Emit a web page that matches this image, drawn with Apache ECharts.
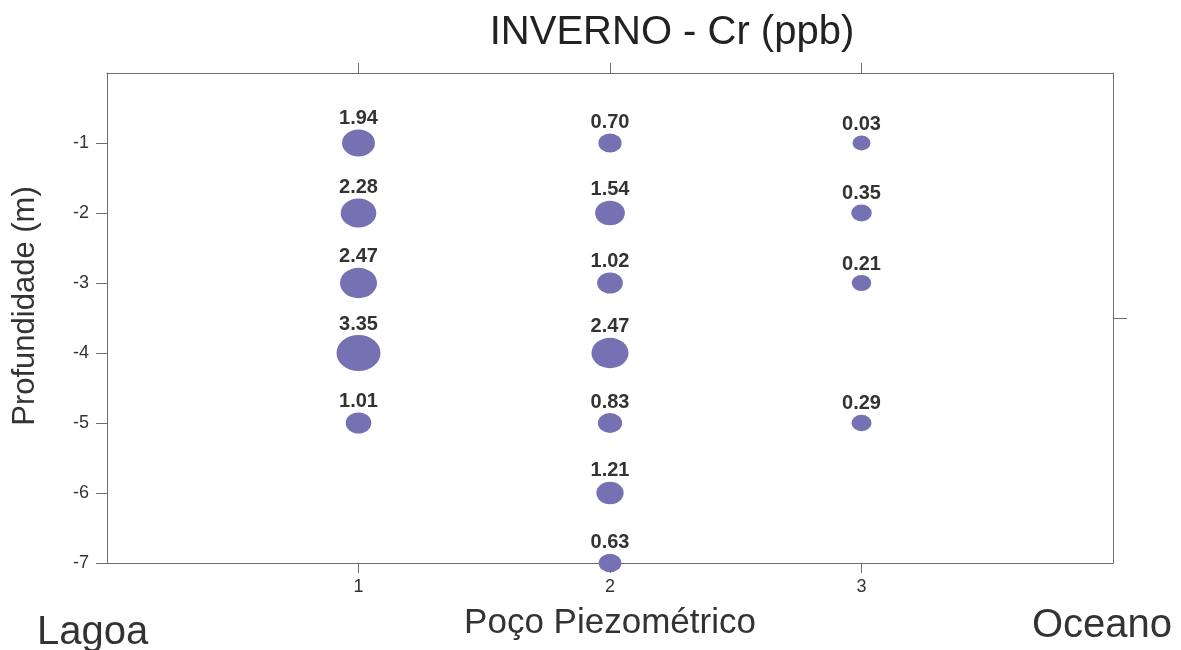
<!DOCTYPE html>
<html>
<head>
<meta charset="utf-8">
<script src="https://cdn.jsdelivr.net/npm/echarts@6/dist/echarts.min.js"></script>
<style>
html,body{margin:0;padding:0;background:#fff;}
#chart{width:1181px;height:650px;}
</style>
</head>
<body>
<div id="chart"></div>
<script>
// Data
const wellPositions = [1, 2, 3];
const depthsWell1 = [-1, -2, -3, -4, -5];
const valuesWell1 = [1.94, 2.28, 2.47, 3.35, 1.01];
const depthsWell2 = [-1, -2, -3, -4, -5, -6, -7];
const valuesWell2 = [0.70, 1.54, 1.02, 2.47, 0.83, 1.21, 0.63];
const depthsWell3 = [-1, -2, -3, -5];
const valuesWell3 = [0.03, 0.35, 0.21, 0.29];
const yTickValues = [-1, -2, -3, -4, -5, -6, -7];
const titleText = 'INVERNO - Cr (ppb)';
const xName = 'Poço Piezométrico';
const yName = 'Profundidade (m)';
const leftLabel = 'Lagoa';
const rightLabel = 'Oceano';

const allDepths = [depthsWell1, depthsWell2, depthsWell3];
const allValues = [valuesWell1, valuesWell2, valuesWell3];
const points = [];
wellPositions.forEach((w, i) => {
  allDepths[i].forEach((d, j) => points.push([w, d, allValues[i][j]]));
});

const FONT = '"Liberation Sans", Arial, Helvetica, sans-serif';
const axisColor = '#6e6e6e';

const chart = echarts.init(document.getElementById('chart'));
chart.setOption({
  animation: false,
  backgroundColor: '#fff',
  textStyle: { fontFamily: FONT },
  title: {
    text: titleText,
    left: 667, top: 8, textAlign: 'center',
    textStyle: { fontFamily: FONT, fontSize: 40, fontWeight: 'normal', color: '#222' }
  },
  grid: { left: 107, right: 68, top: 73, bottom: 87 },
  xAxis: [{
    type: 'value', position: 'bottom', min: 0, max: 4, interval: 1,
    splitLine: { show: false },
    axisLine: { show: true, onZero: false, lineStyle: { color: axisColor, width: 1 } },
    axisTick: { show: true, length: 10, customValues: wellPositions, lineStyle: { color: axisColor } },
    axisLabel: { customValues: wellPositions, fontSize: 18, color: '#333', margin: 15, fontFamily: FONT },
    name: xName, nameLocation: 'middle', nameGap: 43,
    nameTextStyle: { fontSize: 35, color: '#333', fontFamily: FONT }
  }, {
    type: 'value', position: 'top', min: 0, max: 4, interval: 1,
    splitLine: { show: false },
    axisLine: { show: true, onZero: false, lineStyle: { color: axisColor, width: 1 } },
    axisTick: { show: true, length: 10, customValues: wellPositions, lineStyle: { color: axisColor } },
    axisLabel: { show: false }
  }],
  yAxis: [{
    type: 'value', position: 'left', min: -7, max: 0, interval: 1,
    splitLine: { show: false },
    axisLine: { show: true, onZero: false, lineStyle: { color: axisColor, width: 1 } },
    axisTick: { show: true, length: 11, customValues: yTickValues, lineStyle: { color: axisColor } },
    axisLabel: { customValues: yTickValues, fontSize: 18, color: '#333', margin: 18, fontFamily: FONT },
    name: yName, nameLocation: 'middle', nameGap: 66, nameRotate: 90,
    nameTextStyle: { fontSize: 31, color: '#333', fontFamily: FONT, padding: [0, 0, 0, 24] }
  }, {
    type: 'value', position: 'right', min: -7, max: 0, interval: 1,
    splitLine: { show: false },
    axisLine: { show: true, onZero: false, lineStyle: { color: axisColor, width: 1 } },
    axisTick: { show: true, length: 14, customValues: [-3.5], lineStyle: { color: axisColor } },
    axisLabel: { show: false }
  }],
  series: [{
    type: 'scatter',
    xAxisIndex: 0, yAxisIndex: 0,
    data: points,
    symbol: 'circle',
    symbolSize: function (v) {
      const w = 17.8 + 7.8 * v[2];
      return [w, w * 0.82];
    },
    itemStyle: { color: '#7571b3', opacity: 1 },
    label: {
      show: true, position: 'top', distance: 1,
      formatter: p => p.value[2].toFixed(2),
      fontSize: 20, fontWeight: 'bold', color: '#333', fontFamily: FONT
    },
    z: 5
  }],
  graphic: [
    { type: 'text', left: 37, top: 613, style: { text: leftLabel, fontSize: 40, fill: '#333', fontFamily: FONT } },
    { type: 'text', left: 1032, top: 606, style: { text: rightLabel, fontSize: 40, fill: '#333', fontFamily: FONT } }
  ]
});
</script>
</body>
</html>
